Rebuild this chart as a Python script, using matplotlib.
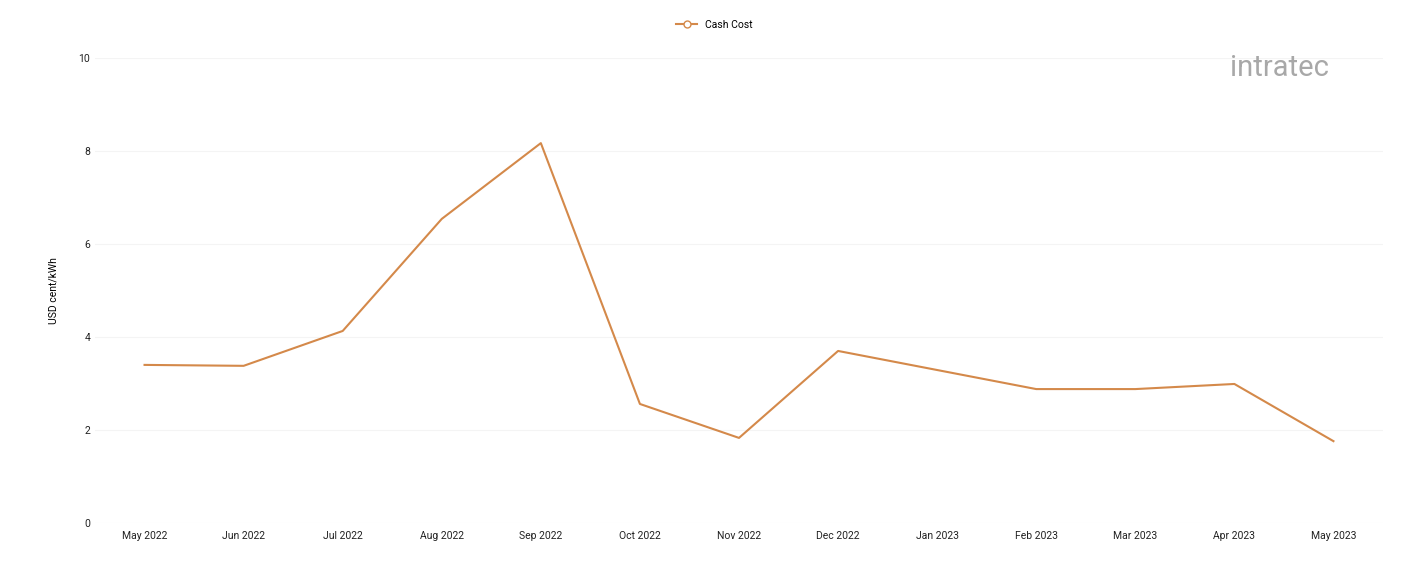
import matplotlib
matplotlib.use("Agg")
import matplotlib.pyplot as plt

months = ["May 2022","Jun 2022","Jul 2022","Aug 2022","Sep 2022","Oct 2022","Nov 2022",
          "Dec 2022","Jan 2023","Feb 2023","Mar 2023","Apr 2023","May 2023"]
cash_cost = [3.40,3.38,4.13,6.54,8.17,2.56,1.83,3.70,3.29,2.88,2.88,2.99,1.76]
yticks = [0,2,4,6,8,10]

plt.rcParams['font.family'] = ['Roboto','DejaVu Sans']
fig = plt.figure(figsize=(14.01,5.61), dpi=100)
ax = fig.add_axes([95/1401, 1-523/561, (1383-95)/1401, (523-58)/561])
color = '#D4894A'
x = list(range(len(months)))
ax.plot(x, cash_cost, color=color, lw=1.5, label='Cash Cost')
ax.set_xlim(-0.5, len(months)-0.5)
ax.set_ylim(0, 10)
ax.set_yticks(yticks)
ax.set_xticks(x)
ax.set_xticklabels(months)
ax.tick_params(axis='both', length=0, labelsize=7.5, colors='#222222')
ax.tick_params(axis='x', pad=6)
ax.grid(axis='y', color='#f4f4f4', lw=0.8)
for s in ax.spines.values():
    s.set_visible(False)
ax.set_ylabel('USD cent/kWh', fontsize=7.5, labelpad=14)
ax.plot([], [], color=color, marker='o', mfc='white', ms=5, lw=1.5, label='_l')
h = ax.lines[-1]
fig.legend([h], ['Cash Cost'], loc='center', bbox_to_anchor=(0.51, 1-25/561),
           frameon=False, fontsize=7.5, handlelength=2)
fig.text(1230/1401, 1-68/561, 'intratec', fontsize=21, color='#a8a8a8', va='center')
fig.savefig('out.png', dpi=100)
